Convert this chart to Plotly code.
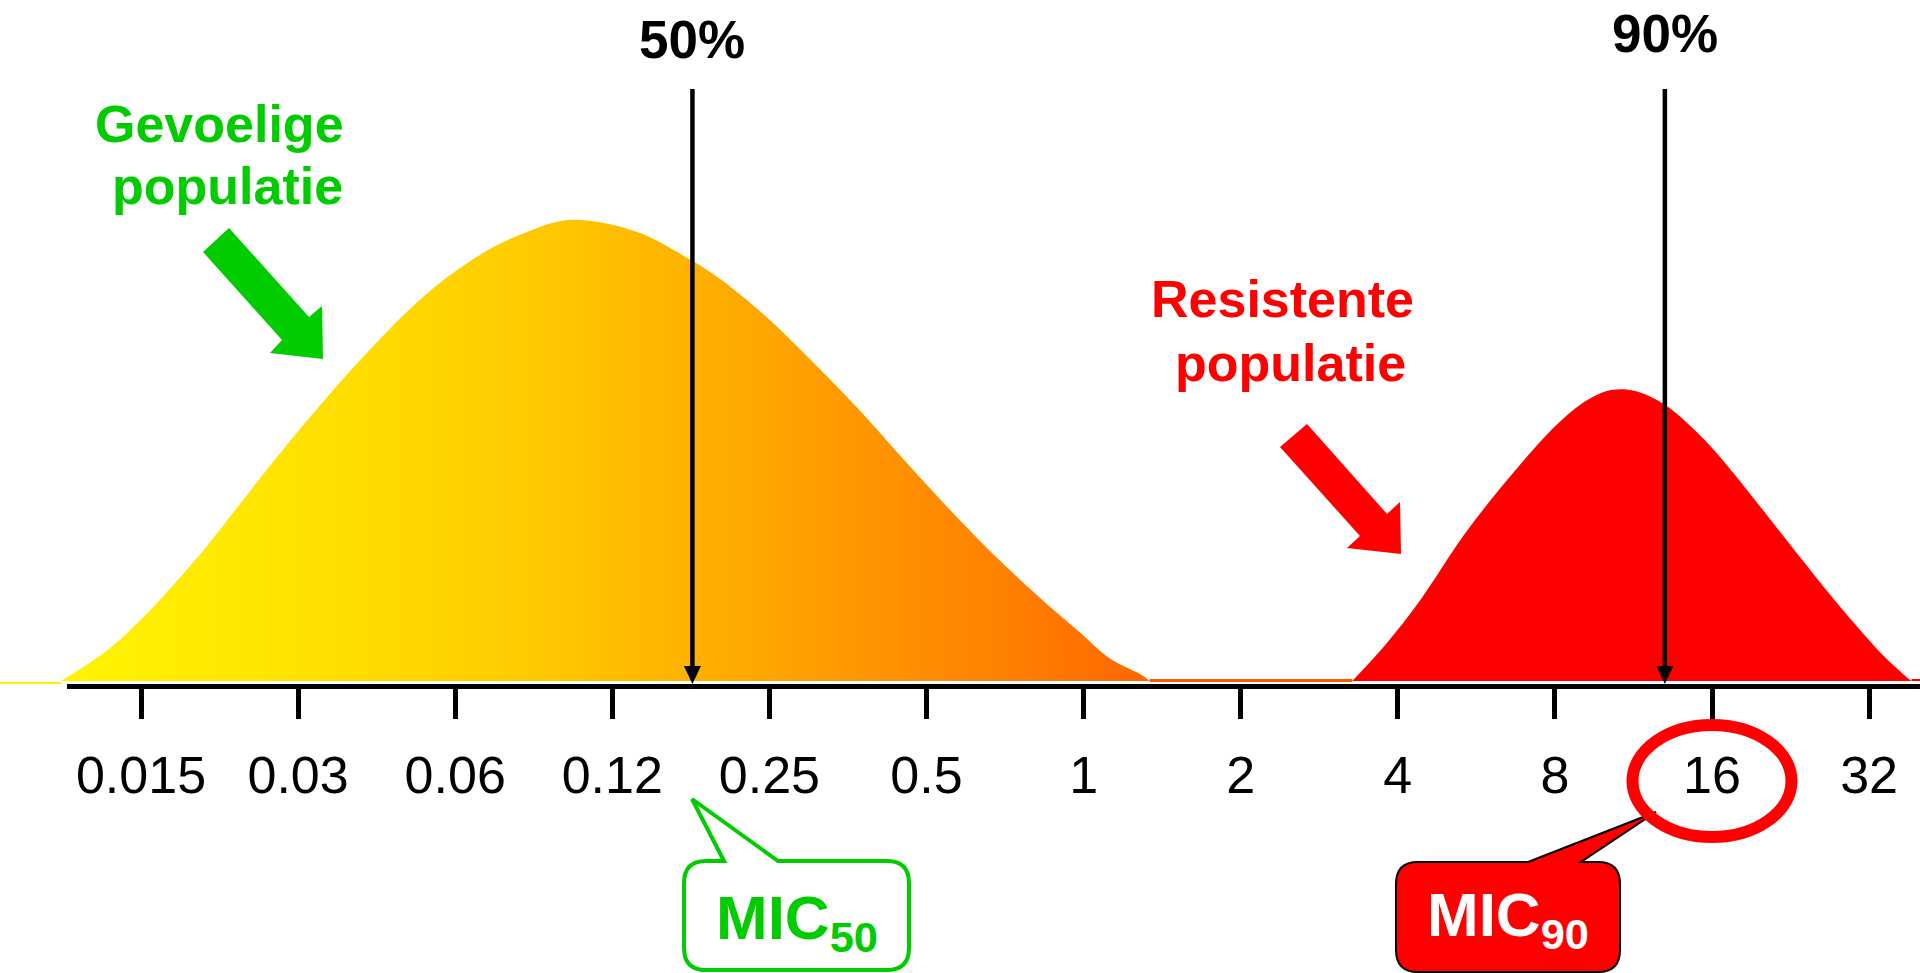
import plotly.graph_objects as go

W, H = 1920, 973

# ---------------- data ----------------
concentraties = ["0.015", "0.03", "0.06", "0.12", "0.25", "0.5", "1", "2", "4", "8", "16", "32"]
verdunningsstap = list(range(len(concentraties)))  # log2 dilution steps

# susceptible population (relative frequency, peak = 100)
gevoelig_x = [-0.51, -0.22, -0.01, 0.20, 0.42, 0.63, 0.84, 1.06, 1.27, 1.48, 1.69, 1.90,
              2.22, 2.43, 2.72, 3.14, 3.51, 3.71, 3.99, 4.27, 4.56, 4.84, 5.12, 5.41,
              5.70, 5.98, 6.17, 6.38, 6.42]
gevoelig_y = [0.0, 6.5, 13.0, 20.6, 29.3, 38.4, 47.5, 56.6, 64.9, 72.7, 80.0, 86.3,
              93.7, 97.0, 100.0, 97.6, 91.1, 86.6, 78.7, 69.4, 59.2, 48.6, 38.2, 28.0,
              18.7, 10.4, 4.8, 1.1, 0.0]

# resistant population
resistent_x = [7.71, 7.92, 8.14, 8.43, 8.77, 9.03, 9.22, 9.36, 9.51, 9.70, 9.92, 10.10,
               10.43, 10.76, 10.97, 11.10, 11.23, 11.27]
resistent_y = [0.0, 7.8, 17.4, 32.1, 46.6, 56.2, 61.2, 63.1, 62.9, 59.9, 53.4, 46.6,
               32.5, 18.4, 10.0, 5.2, 1.1, 0.0]

mic_stap = [3.51, 9.70]
mic_percent = ["50%", "90%"]

# ---------------- pixel helpers (decoration only) ----------------
X0_PX, STEP_PX = 141.0, 157.1
Y0_PX, UNIT_PX = 681.0, 4.61
xr = [(0 - X0_PX) / STEP_PX, (W - X0_PX) / STEP_PX]
yr = [(Y0_PX - H) / UNIT_PX, Y0_PX / UNIT_PX]
AXIS_PX = 686.5


def px(x):
    return x / W


def py(y):
    return 1 - y / H


def vy(ypx):
    return (Y0_PX - ypx) / UNIT_PX


def poly(pts):
    return "M " + " L ".join(f"{px(x):.5f},{py(y):.5f}" for x, y in pts) + " Z"


def callout(l, t, r, b, rr, x1, x2, tx, ty):
    P = lambda x, y: f"{px(x):.5f},{py(y):.5f}"
    return (f"M {P(x1, t)} L {P(tx, ty)} L {P(x2, t)} L {P(r - rr, t)} Q {P(r, t)} {P(r, t + rr)} "
            f"L {P(r, b - rr)} Q {P(r, b)} {P(r - rr, b)} L {P(l + rr, b)} Q {P(l, b)} {P(l, b - rr)} "
            f"L {P(l, t + rr)} Q {P(l, t)} {P(l + rr, t)} Z")


FONT = "Liberation Sans, Arial, sans-serif"
GREEN = "#00CC00"
RED = "#FF0000"

fig = go.Figure()

# baseline strips
fig.add_trace(go.Scatter(x=[xr[0], gevoelig_x[0]], y=[vy(683), vy(683)], mode="lines",
                         line=dict(color="#FFF200", width=2), hoverinfo="skip"))
fig.add_trace(go.Scatter(x=[gevoelig_x[-1], resistent_x[0]], y=[vy(680.5), vy(680.5)], mode="lines",
                         line=dict(color="#FF5A00", width=3), hoverinfo="skip"))
fig.add_trace(go.Scatter(x=[resistent_x[-1], xr[1]], y=[vy(680), vy(680)], mode="lines",
                         line=dict(color=RED, width=2), hoverinfo="skip"))

# distributions
fig.add_trace(go.Scatter(
    x=gevoelig_x, y=gevoelig_y, mode="lines", name="Gevoelige populatie",
    line=dict(width=0, shape="spline", smoothing=1.0, color="#FFC800"),
    fill="tozeroy",
    fillgradient=dict(type="horizontal",
                      colorscale=[[0, "#FFF500"], [0.22, "#FFE200"], [0.45, "#FFC800"],
                                  [0.68, "#FFA000"], [0.87, "#FF8000"], [1, "#FF6600"]]),
    hoverinfo="skip"))
fig.add_trace(go.Scatter(
    x=resistent_x, y=resistent_y, mode="lines", name="Resistente populatie",
    line=dict(width=0, shape="spline", smoothing=1.0, color=RED),
    fill="tozeroy", fillcolor=RED, hoverinfo="skip"))

shapes = []
# axis line
shapes.append(dict(type="line", xref="paper", yref="paper", x0=px(67), x1=1.0,
                   y0=py(AXIS_PX), y1=py(AXIS_PX), line=dict(color="black", width=5)))

# MIC50 / MIC90 vertical arrows
HEAD_W = 8.5 / STEP_PX
for s in mic_stap:
    fig.add_trace(go.Scatter(x=[s, s], y=[vy(89), vy(668)], mode="lines",
                             line=dict(color="black", width=4.5), hoverinfo="skip"))
    shapes.append(dict(type="path", xref="x", yref="y",
                       path=f"M {s - HEAD_W},{vy(666)} L {s + HEAD_W},{vy(666)} L {s},{vy(684)} Z",
                       fillcolor="black", line=dict(width=0)))

# block arrows
shapes.append(dict(type="path", xref="paper", yref="paper",
                   path=poly([(229, 228), (203, 252), (282, 340), (270, 353), (323, 359), (322, 306), (309, 317)]),
                   fillcolor=GREEN, line=dict(width=0)))
shapes.append(dict(type="path", xref="paper", yref="paper",
                   path=poly([(1307, 424), (1280, 447), (1360, 536), (1347, 548), (1401, 554), (1400, 502), (1387, 514)]),
                   fillcolor=RED, line=dict(width=0)))
# callouts
shapes.append(dict(type="path", xref="paper", yref="paper",
                   path=callout(684, 861, 909, 970, 22, 724, 778, 692, 799),
                   fillcolor="white", line=dict(color=GREEN, width=4)))
shapes.append(dict(type="path", xref="paper", yref="paper",
                   path=callout(1396, 862, 1620, 972, 22, 1528, 1581, 1656, 812),
                   fillcolor=RED, line=dict(color="black", width=2)))
# ellipse round 16
shapes.append(dict(type="circle", xref="paper", yref="paper",
                   x0=px(1632.5), x1=px(1791.5), y0=py(837), y1=py(725),
                   line=dict(color=RED, width=12)))

annotations = []
for s, lab, cy in zip(mic_stap, mic_percent, [39.6, 33.6]):
    annotations.append(dict(x=s, y=vy(cy), xref="x", yref="y", text=lab, showarrow=False,
                            xanchor="center", yanchor="middle",
                            font=dict(family=FONT, size=53, color="black", weight="bold")))

for txt, cx, cy, col in [("Gevoelige", 219, 124, GREEN), ("populatie", 227, 186, GREEN),
                         ("Resistente", 1282, 299, RED), ("populatie", 1290, 363, RED)]:
    annotations.append(dict(x=px(cx), y=py(cy), xref="paper", yref="paper", text=txt,
                            showarrow=False, xanchor="center", yanchor="middle",
                            font=dict(family=FONT, size=52, color=col, weight="bold")))

annotations.append(dict(x=px(797), y=py(922), xref="paper", yref="paper", text="MIC<sub>50</sub>",
                        showarrow=False, xanchor="center", yanchor="middle",
                        font=dict(family=FONT, size=62, color=GREEN, weight="bold")))
annotations.append(dict(x=px(1508), y=py(919), xref="paper", yref="paper", text="MIC<sub>90</sub>",
                        showarrow=False, xanchor="center", yanchor="middle",
                        font=dict(family=FONT, size=62, color="white", weight="bold")))

fig.update_layout(
    width=W, height=H, margin=dict(l=0, r=0, t=0, b=0),
    paper_bgcolor="white", plot_bgcolor="white", showlegend=False,
    shapes=shapes, annotations=annotations,
    xaxis=dict(range=xr, domain=[0, 1], anchor="free", position=py(AXIS_PX),
               showgrid=False, zeroline=False, showline=False,
               ticks="outside", ticklen=31, tickwidth=5, tickcolor="black",
               tickvals=verdunningsstap, ticktext=concentraties, ticklabelstandoff=12,
               tickfont=dict(family=FONT, size=52, color="black"), fixedrange=True),
    yaxis=dict(range=yr, domain=[0, 1], visible=False, fixedrange=True),
)

fig.write_html("out.html", config={"displayModeBar": False},
               post_script="document.body.style.margin='0px';document.body.style.overflow='hidden';")
